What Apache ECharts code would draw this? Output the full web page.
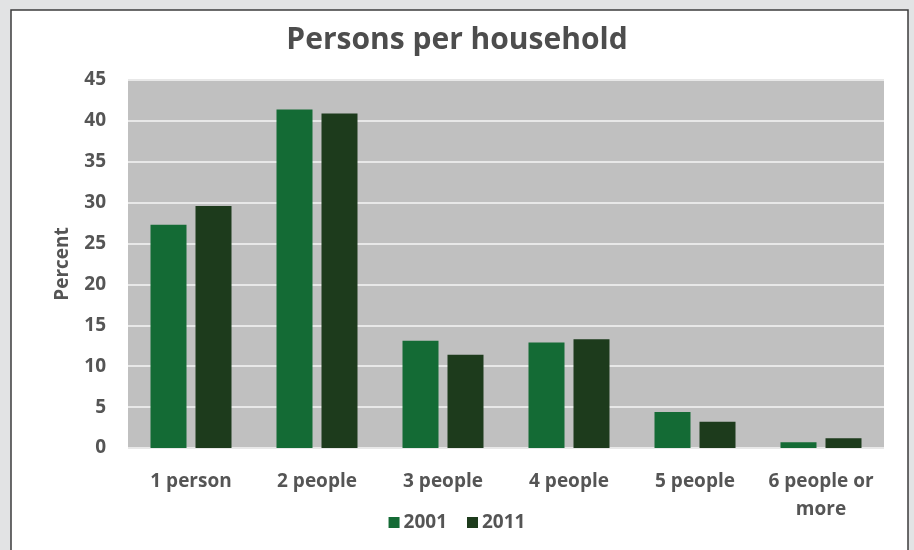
<!DOCTYPE html>
<html>
<head>
<meta charset="utf-8">
<script src="https://cdn.jsdelivr.net/npm/echarts@6/dist/echarts.min.js"></script>
<style>
html,body{margin:0;padding:0;background:#e2e3e4;}
#chart{width:914px;height:550px;}
</style>
</head>
<body>
<div id="chart"></div>
<script>
const categories = ['1 person', '2 people', '3 people', '4 people', '5 people', '6 people or\nmore'];
const series2001 = [27.3, 41.4, 13.1, 12.9, 4.4, 0.7];
const series2011 = [29.6, 40.9, 11.4, 13.3, 3.2, 1.2];
const yTicks = { min: 0, max: 45, interval: 5 };

const chart = echarts.init(document.getElementById('chart'));
const font = '"Open Sans", "DejaVu Sans", sans-serif';
const textCol = '#555555';
chart.setOption({
  backgroundColor: '#e2e3e4',
  graphic: [{
    type: 'rect',
    shape: { x: 11, y: 10, width: 897, height: 560 },
    style: { fill: '#ffffff', stroke: '#3d3d3d', lineWidth: 1.5 },
    z: -10, silent: true
  }],
  title: {
    text: 'Persons per household',
    left: 'center', top: 20,
    textStyle: { fontFamily: font, fontWeight: 'bold', fontSize: 30, color: '#4d4d4d' }
  },
  legend: {
    bottom: 13, left: 'center',
    itemWidth: 11, itemHeight: 11, itemGap: 20,
    icon: 'rect',
    textStyle: { fontFamily: font, fontWeight: 'bold', fontSize: 19, color: textCol, padding: [0,0,0,-1] }
  },
  grid: { left: 128, right: 30, top: 80, bottom: 102, backgroundColor: '#c0c0c0', show: true, borderWidth: 0 },
  xAxis: {
    type: 'category',
    data: categories,
    axisLine: { show: false },
    axisTick: { show: false },
    axisLabel: { fontFamily: font, fontWeight: 'bold', fontSize: 19, color: textCol, margin: 20, lineHeight: 28, interval: 0 }
  },
  yAxis: {
    type: 'value',
    min: yTicks.min, max: yTicks.max, interval: yTicks.interval,
    name: 'Percent', nameLocation: 'middle', nameGap: 56, nameRotate: 90,
    nameTextStyle: { fontFamily: font, fontWeight: 'bold', fontSize: 19, color: textCol },
    axisLine: { show: false },
    axisTick: { show: false },
    splitLine: { lineStyle: { color: '#e8e8e8', width: 2 } },
    axisLabel: { fontFamily: font, fontWeight: 'bold', fontSize: 19, color: textCol, margin: 22 }
  },
  series: [
    { name: '2001', type: 'bar', data: series2001, barWidth: 36, barGap: '25%', itemStyle: { color: '#146b35' } },
    { name: '2011', type: 'bar', data: series2011, barWidth: 36, itemStyle: { color: '#1d3b1c' } }
  ]
});
</script>
</body>
</html>
